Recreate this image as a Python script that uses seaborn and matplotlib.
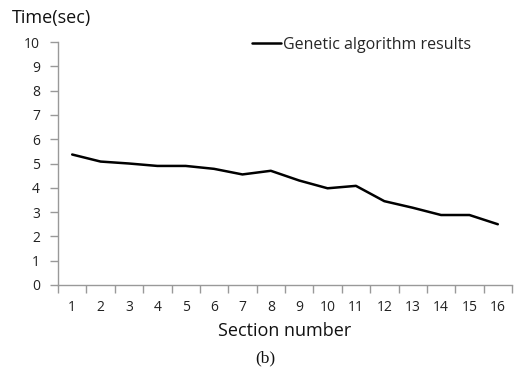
import matplotlib
matplotlib.use("Agg")
import matplotlib.pyplot as plt
import seaborn as sns
import pandas as pd
import numpy as np

sections = list(range(1, 17))
times = [5.37, 5.08, 5.0, 4.9, 4.9, 4.78, 4.55, 4.7, 4.3, 3.98, 4.08, 3.45, 3.18, 2.88, 2.88, 2.5]
series_name = "Genetic algorithm results"
yticks = list(range(0, 11))

sns.set_style("white")
plt.rcParams['font.family'] = ['Open Sans', 'DejaVu Sans']

df = pd.DataFrame({"Section": sections, "Time": times, "Series": series_name})

fig = plt.figure(figsize=(5.14, 3.74), dpi=100)
ax = fig.add_axes([58/514, 1-285/374, (512-58)/514, (285-42)/374])
sns.lineplot(data=df, x="Section", y="Time", color="black", linewidth=1.8, ax=ax, label=series_name)

ax.set_xlim(0.5, 16.5)
ax.set_ylim(0, 10)
ax.set_yticks(yticks)
ax.set_xticks(sections)
ax.set_xticks(np.arange(0.5, 17, 1), minor=True)
ax.tick_params(axis='x', which='major', length=0, pad=11, labelsize=10, labelcolor='#222222')
ax.tick_params(axis='x', which='minor', length=6, width=1, color='#999999', direction='out', bottom=True)
ax.tick_params(axis='y', which='major', length=6, width=1, color='#999999', direction='out', left=True, labelsize=10, labelcolor='#222222', pad=7)
for s in ['top', 'right']:
    ax.spines[s].set_visible(False)
for s in ['left', 'bottom']:
    ax.spines[s].set_color('#999999')
    ax.spines[s].set_linewidth(1)
ax.set_xlabel("")
ax.set_ylabel("")
fig.text(12/514, 1-18/374, "Time(sec)", fontsize=13, va='center', ha='left', color='#111111')
fig.text(285/514, 1-331/374, "Section number", fontsize=13, va='center', ha='center', color='#111111')
fig.text(265/514, 1-358/374, "(b)", fontsize=12.5, va='center', ha='center', family=['Liberation Serif'], color='#111111')

leg = ax.legend(loc='upper left', frameon=False, fontsize=11.5, handlelength=1.8,
                handletextpad=0.15, borderaxespad=0, borderpad=0)
leg.set_bbox_to_anchor(((252-58)/454, 1.0 + 5/243), transform=ax.transAxes)

fig.savefig("out.png", dpi=100)
